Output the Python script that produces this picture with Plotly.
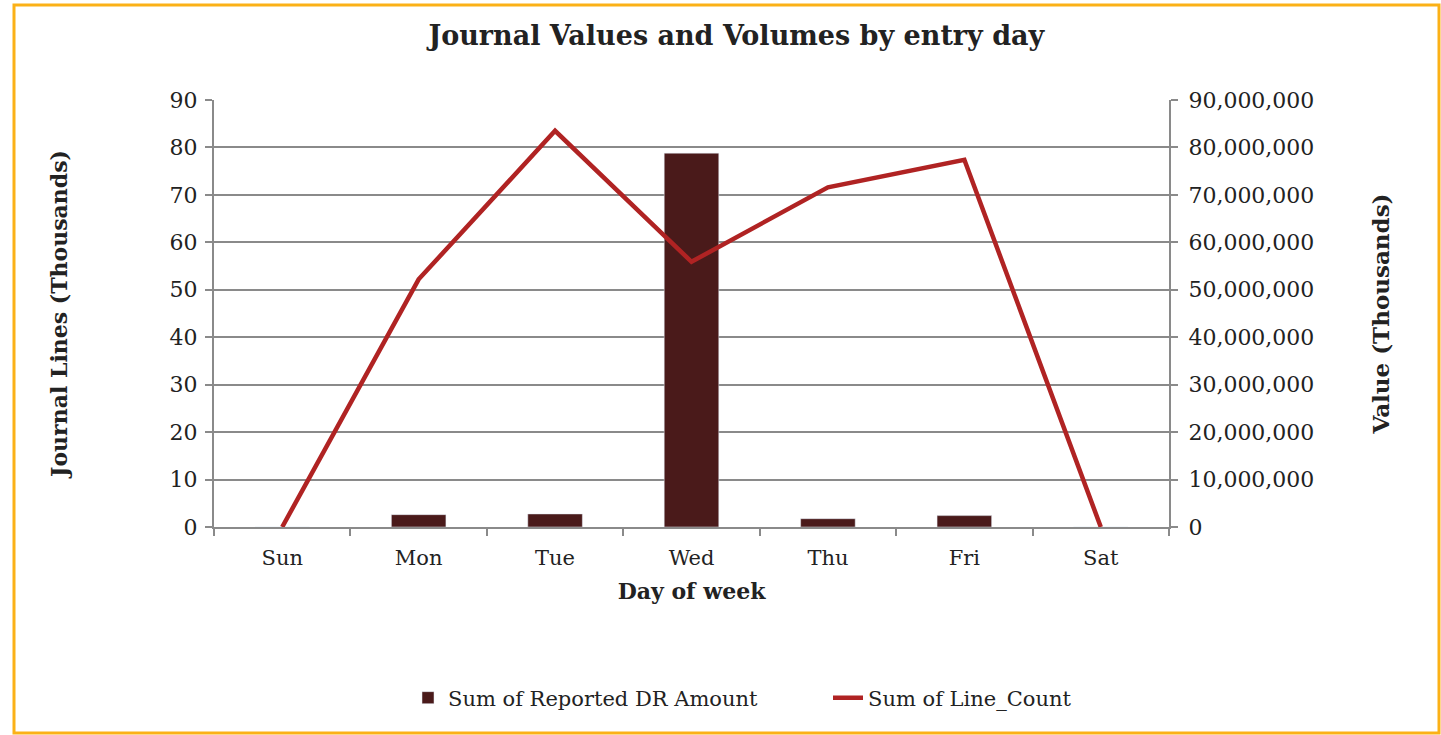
import plotly.graph_objects as go

days = ["Sun", "Mon", "Tue", "Wed", "Thu", "Fri", "Sat"]
dr_amount = [0, 2600000, 2750000, 78800000, 1750000, 2400000, 0]
line_count = [0, 52.2, 83.5, 55.9, 71.6, 77.4, 0]

font_family = "DejaVu Serif, Liberation Serif, serif"
grid = "#8a8a8a"

# plot area in page pixels
L, R, T, B = 214, 1169, 100, 527
W, H = R - L, B - T

fig = go.Figure()
fig.add_trace(go.Bar(
    x=days, y=dr_amount, name="Sum of Reported DR Amount",
    marker=dict(color="#4A1A1A"), yaxis="y",
))
fig.add_trace(go.Scatter(
    x=days, y=line_count, name="Sum of Line_Count", mode="lines",
    line=dict(color="#B02323", width=4.5), yaxis="y2",
))

fig.update_layout(
    width=1441, height=735,
    paper_bgcolor="white", plot_bgcolor="white",
    margin=dict(l=L, r=1441 - R, t=T, b=735 - B),
    font=dict(family=font_family, size=21, color="#222222"),
    title=dict(text="<b>Journal Values and Volumes by entry day</b>",
               x=0.511, xanchor="center", y=0.951, yanchor="middle",
               font=dict(size=27)),
    bargap=0.6,
    showlegend=True,
    legend=dict(orientation="h", x=(408 - L) / W, xanchor="left", y=(B - 698) / H,
                yanchor="middle", font=dict(size=21),
                entrywidth=375, entrywidthmode="pixels"),
    xaxis=dict(
        title=dict(text="<b>Day of week</b>", standoff=14, font=dict(size=22)),
        showline=True, linecolor=grid, linewidth=2,
        ticks="outside", ticklen=7, tickcolor=grid, tickwidth=2,
        tickson="boundaries", showgrid=False, ticklabelstandoff=11,
    ),
    yaxis=dict(
        title=dict(text="<b>Value (Thousands)</b>", standoff=60, font=dict(size=23)),
        side="right", range=[0, 90000000], dtick=10000000,
        tickformat=",d", showgrid=True, gridcolor=grid, gridwidth=1.5,
        showline=True, linecolor=grid, linewidth=2,
        ticks="outside", ticklen=7, tickcolor=grid, tickwidth=2,
        zeroline=False, ticklabelstandoff=6, tickfont=dict(size=22),
    ),
    yaxis2=dict(
        title=dict(text="<b>Journal Lines (Thousands)</b>", standoff=96, font=dict(size=22)),
        side="left", overlaying="y", range=[0, 90], dtick=10,
        showgrid=False, showline=True, linecolor=grid, linewidth=2,
        ticks="outside", ticklen=7, tickcolor=grid, tickwidth=2,
        zeroline=False, tickfont=dict(size=22), ticklabelstandoff=3,
    ),
    shapes=[dict(
        type="rect", xref="paper", yref="paper",
        x0=(14 - L) / W, x1=(1439 - L) / W,
        y0=(B - 733) / H, y1=(B - 5) / H,
        line=dict(color="#FBB117", width=3), layer="below",
    )],
)

fig.write_html("out.html", config={"displayModeBar": False},
               post_script="document.body.style.margin='0';")
